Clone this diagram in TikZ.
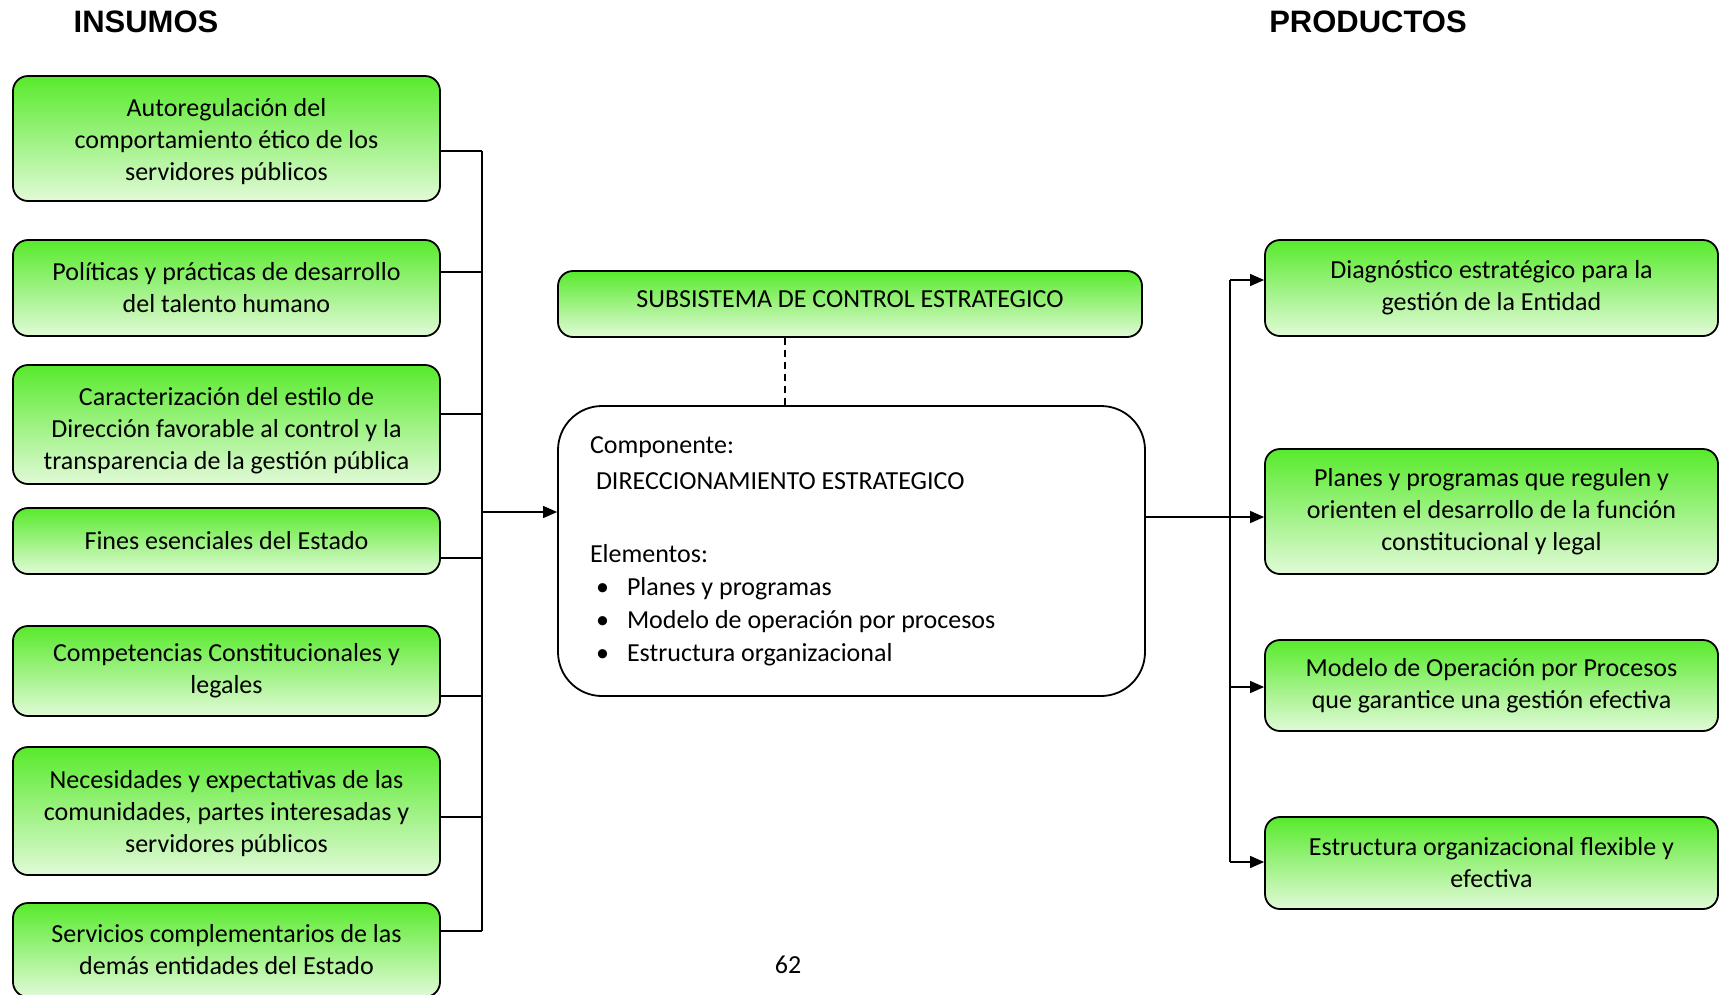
\documentclass[tikz,border=0pt]{standalone}
\usepackage{fontspec}
\setmainfont{Carlito}
\newfontfamily\headfont{Liberation Sans}
\usetikzlibrary{arrows.meta}
\definecolor{gtop}{RGB}{88,234,44}
\definecolor{gbot}{RGB}{225,250,215}
\newcommand{\dep}{\rule[-9pt]{0pt}{9pt}}
\tikzset{
  greenbox/.style={draw, line width=1.8pt, rounded corners=15pt, top color=gtop, bottom color=gbot,
    align=center, inner sep=0pt, font=\fontsize{26}{32}\selectfont},
  inbox/.style={greenbox, minimum width=427pt},
  outbox/.style={greenbox, minimum width=453pt},
  heading/.style={font=\headfont\bfseries\fontsize{31}{36}\selectfont},
  link/.style={line width=1.5pt},
  arrowlink/.style={link, -{Triangle[length=14pt,width=12pt]}}
}
\begin{document}
\begin{tikzpicture}[x=1pt,y=-1pt]
  \useasboundingbox (0,0) rectangle (1726,994);
  \clip (0,0) rectangle (1726,994);
  \node[heading] (insumos) at (146,22) {INSUMOS};
  \node[heading] (productos) at (1368,22) {PRODUCTOS};

  \node[inbox, minimum height=125pt] (in1) at (226.5,138.5)
    {\rule{0pt}{24pt}Autoregulación del\\comportamiento ético de los\\servidores públicos};
  \node[inbox, minimum height=96pt] (in2) at (226.5,288)
    {Políticas y prácticas de desarrollo\\del talento humano};
  \node[inbox, minimum height=119pt] (in3) at (226.5,424.5)
    {\rule{0pt}{30pt}Caracterización del estilo de\\Dirección favorable al control y la\\transparencia de la gestión pública};
  \node[inbox, minimum height=66pt] (in4) at (226.5,541)
    {Fines esenciales del Estado};
  \node[inbox, minimum height=90pt] (in5) at (226.5,671)
    {Competencias Constitucionales y\\legales};
  \node[inbox, minimum height=128pt] (in6) at (226.5,811)
    {\rule{0pt}{24pt}Necesidades y expectativas de las\\comunidades, partes interesadas y\\servidores públicos};
  \node[inbox, minimum height=94pt] (in7) at (226.5,950)
    {Servicios complementarios de las\\demás entidades del Estado};

  \node[greenbox, minimum width=584pt, minimum height=66pt] (sub) at (850,304)
    {SUBSISTEMA DE CONTROL ESTRATEGICO\dep};
  \node[draw, line width=1.8pt, rounded corners=44pt, minimum width=587pt, minimum height=290pt,
    text width=523pt, inner xsep=32pt, align=flush left, font=\fontsize{26}{33}\selectfont] (comp) at (851.5,551)
    {Componente:\\[3pt]
     \hspace*{6pt}DIRECCIONAMIENTO ESTRATEGICO\\[40pt]
     Elementos:\\
     \hspace*{6pt}\makebox[31pt][l]{•}Planes y programas\\
     \hspace*{6pt}\makebox[31pt][l]{•}Modelo de operación por procesos\\
     \hspace*{6pt}\makebox[31pt][l]{•}Estructura organizacional};

  \node[outbox, minimum height=96pt] (out1) at (1491.5,288)
    {Diagnóstico estratégico para la\\gestión de la Entidad};
  \node[outbox, minimum height=125pt] (out2) at (1491.5,511.5)
    {Planes y programas que regulen y\\orienten el desarrollo de la función\\constitucional y legal};
  \node[outbox, minimum height=91pt] (out3) at (1491.5,685.5)
    {Modelo de Operación por Procesos\\que garantice una gestión efectiva};
  \node[outbox, minimum height=92pt] (out4) at (1491.5,863)
    {Estructura organizacional flexible y\\efectiva};

  \node[font=\fontsize{26}{32}\selectfont] (page) at (788,965) {62};

  \coordinate (b1) at (482,151);
  \coordinate (b2) at (482,272);
  \coordinate (b3) at (482,414);
  \coordinate (b4) at (482,558);
  \coordinate (b5) at (482,696);
  \coordinate (b6) at (482,817);
  \coordinate (b7) at (482,931);
  \coordinate (bin) at (482,512);
  \coordinate (dsh) at (785,0);
  \coordinate (c1) at (1230,280);
  \coordinate (c2) at (1230,517);
  \coordinate (c3) at (1230,687);
  \coordinate (c4) at (1230,862);
  \begin{scope}[link]
    \draw (b1 -| in1.east) -- (b1);
    \draw (b2 -| in2.east) -- (b2);
    \draw (b3 -| in3.east) -- (b3);
    \draw (b4 -| in4.east) -- (b4);
    \draw (b5 -| in5.east) -- (b5);
    \draw (b6 -| in6.east) -- (b6);
    \draw (b7 -| in7.east) -- (b7);
    \draw (b1) -- (b7);
    \draw[arrowlink] (bin) -- (bin -| comp.west);
    \draw[dashed, dash pattern=on 7pt off 5pt] (dsh |- sub.south) -- (dsh |- comp.north);
    \draw (c2 -| comp.east) -- (c2);
    \draw (c1) -- (c4);
    \draw[arrowlink] (c1) -- (c1 -| out1.west);
    \draw[arrowlink] (c2) -- (c2 -| out2.west);
    \draw[arrowlink] (c3) -- (c3 -| out3.west);
    \draw[arrowlink] (c4) -- (c4 -| out4.west);
  \end{scope}
\end{tikzpicture}
\end{document}
